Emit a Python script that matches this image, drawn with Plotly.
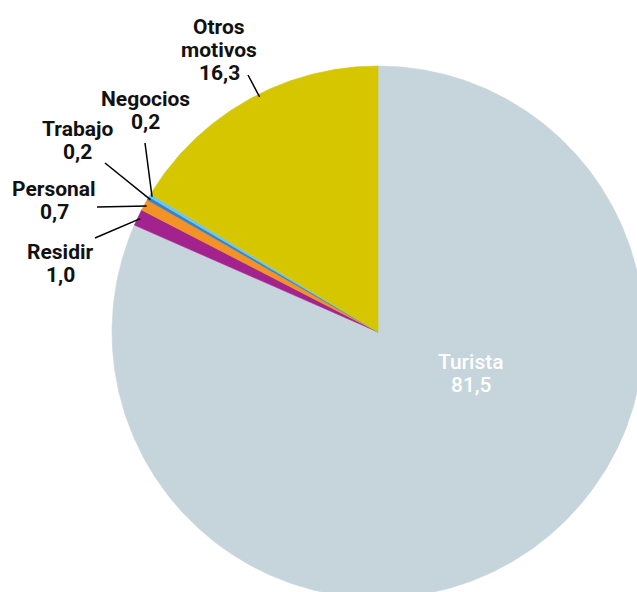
import numpy as np
import plotly.graph_objects as go

# ---- data ----
categories = ["Turista", "Residir", "Personal", "Trabajo", "Negocios", "Otros motivos"]
values = [81.5, 1.0, 0.7, 0.2, 0.2, 16.3]
colors = ["#c6d4dc", "#a3238e", "#f39325", "#3b82c4", "#6cc7ef", "#d6c600"]
label_lines = [["Turista"], ["Residir"], ["Personal"], ["Trabajo"], ["Negocios"], ["Otros", "motivos"]]

# ---- layout (pixel space) ----
W, H = 637, 592
CX, CY, R = 378, 332, 266
LINE_H = 23
FS = 21
# label center x and y of first text line
label_pos = [(471, 362), (60, 252), (54, 189), (77, 129), (145, 99), (219, 27)]
line_start = [None, (95, 238), (97, 207), (105, 163), (145, 143), (248, 75)]
# where along each slice the leader line touches (fraction of slice angle)
anchor_frac = [0.5, 0.5, 0.5, 0.5, 0.5, 0.545]

fig = go.Figure()
total = sum(values)
start = 0.0
anchors = []
for i, (cat, v, col) in enumerate(zip(categories, values, colors)):
    span = v / total * 2 * np.pi
    n = max(3, int(span / (2 * np.pi) * 720))
    th = np.linspace(start, start + span, n)
    xs = np.concatenate([[CX], CX + R * np.sin(th), [CX]])
    ys = np.concatenate([[CY], CY - R * np.cos(th), [CY]])
    fig.add_trace(go.Scatter(x=xs, y=ys, mode="lines", fill="toself",
                             fillcolor=col, line=dict(width=0.6, color=col),
                             hoverinfo="skip", showlegend=False, name=cat))
    anchors.append(start + span * anchor_frac[i])
    start += span

shapes = []
annotations = []
for i, (cat, v) in enumerate(zip(categories, values)):
    lines = label_lines[i] + [f"{v:.1f}".replace(".", ",")]
    lx, ly = label_pos[i]
    if i == 0:
        font = dict(family="Roboto", size=FS, color="white", weight=500)
    else:
        font = dict(family="Roboto", size=FS, color="#111111", weight="bold")
    for k, t in enumerate(lines):
        annotations.append(dict(x=lx, y=ly + k * LINE_H, text=t, showarrow=False,
                                font=font, xref="x", yref="y",
                                xanchor="center", yanchor="middle"))
    if line_start[i] is None:
        continue
    sx, sy = line_start[i]
    ex = CX + R * 0.99 * np.sin(anchors[i])
    ey = CY - R * 0.99 * np.cos(anchors[i])
    shapes.append(dict(type="line", x0=sx, y0=sy, x1=ex, y1=ey, xref="x", yref="y",
                       line=dict(color="black", width=1.5), layer="above"))

fig.update_layout(
    width=W, height=H,
    margin=dict(l=0, r=0, t=0, b=0),
    paper_bgcolor="white", plot_bgcolor="white",
    xaxis=dict(range=[0, W], visible=False, fixedrange=True),
    yaxis=dict(range=[H, 0], visible=False, fixedrange=True),
    shapes=shapes, annotations=annotations,
    showlegend=False,
)
fig.write_html("out.html", config={"displayModeBar": False},
               post_script="document.body.style.margin='0';document.body.style.overflow='hidden';")
